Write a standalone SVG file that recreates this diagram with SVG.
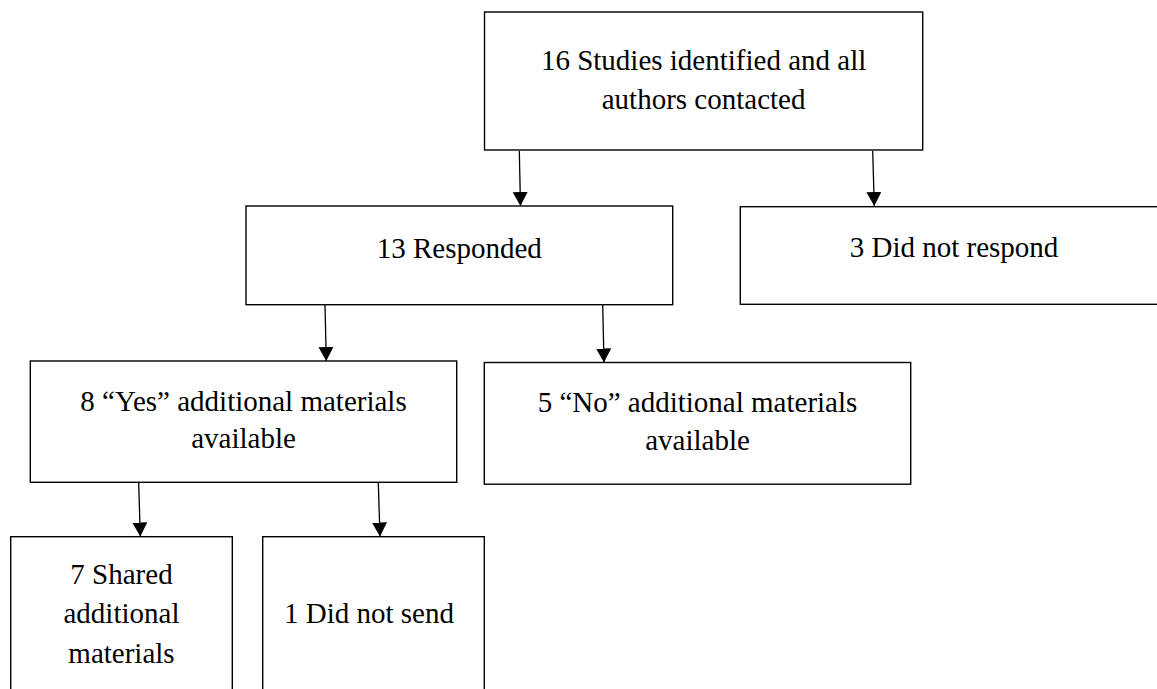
<svg xmlns="http://www.w3.org/2000/svg" width="1157" height="689" viewBox="0 0 1157 689">
  <style>
    .box { fill: #ffffff; stroke: #000000; stroke-width: 1.4; }
    .lbl { font-family: 'Liberation Serif', 'Tinos', 'DejaVu Serif', serif; font-size: 29px; fill: #000000; text-anchor: middle; }
    .conn { stroke: #000000; stroke-width: 1.3; fill: none; marker-end: url(#arrow); }
  </style>
  <defs>
    <marker id="arrow" markerUnits="userSpaceOnUse" markerWidth="16" markerHeight="16" refX="14" refY="7.5" orient="auto">
      <polygon points="0,0 14,7.5 0,15" fill="#000000"/>
    </marker>
  </defs>
  <rect x="0" y="0" width="1157" height="689" fill="#ffffff"/>

  <g id="connectors">
    <line class="conn" x1="519.3" y1="151" x2="520.5" y2="206"/>
    <line class="conn" x1="872.7" y1="151" x2="874.3" y2="206"/>
    <line class="conn" x1="325" y1="305" x2="326.3" y2="361"/>
    <line class="conn" x1="602.7" y1="305" x2="604" y2="362.5"/>
    <line class="conn" x1="138.7" y1="483" x2="140.3" y2="536.5"/>
    <line class="conn" x1="378.3" y1="483" x2="380" y2="536.5"/>
  </g>

  <g id="node-studies">
    <rect class="box" x="484.5" y="12" width="438.2" height="138"/>
    <text class="lbl" font-family="Liberation Serif, serif" x="703.6" y="70">16 Studies identified and all</text>
    <text class="lbl" font-family="Liberation Serif, serif" x="703.6" y="109">authors contacted</text>
  </g>

  <g id="node-responded">
    <rect class="box" x="246" y="206" width="426.7" height="98.7"/>
    <text class="lbl" font-family="Liberation Serif, serif" x="459.3" y="258.3">13 Responded</text>
  </g>

  <g id="node-not-respond">
    <rect class="box" x="740.3" y="206.7" width="430" height="97.6"/>
    <text class="lbl" font-family="Liberation Serif, serif" x="954" y="257.3">3 Did not respond</text>
  </g>

  <g id="node-yes">
    <rect class="box" x="30.3" y="361" width="426.4" height="121.3"/>
    <text class="lbl" font-family="Liberation Serif, serif" x="243.5" y="410.7">8 “Yes” additional materials</text>
    <text class="lbl" font-family="Liberation Serif, serif" x="243.5" y="448.3">available</text>
  </g>

  <g id="node-no">
    <rect class="box" x="484.3" y="362.5" width="426.4" height="121.7"/>
    <text class="lbl" font-family="Liberation Serif, serif" x="697.5" y="411.7">5 “No” additional materials</text>
    <text class="lbl" font-family="Liberation Serif, serif" x="697.5" y="450">available</text>
  </g>

  <g id="node-shared">
    <rect class="box" x="10.7" y="536.7" width="221.6" height="170"/>
    <text class="lbl" font-family="Liberation Serif, serif" x="121.5" y="584">7 Shared</text>
    <text class="lbl" font-family="Liberation Serif, serif" x="121.5" y="623.3">additional</text>
    <text class="lbl" font-family="Liberation Serif, serif" x="121.5" y="662.7">materials</text>
  </g>

  <g id="node-not-send">
    <rect class="box" x="262.7" y="536.7" width="221.6" height="170"/>
    <text class="lbl" font-family="Liberation Serif, serif" x="369" y="623.3">1 Did not send</text>
  </g>
</svg>
